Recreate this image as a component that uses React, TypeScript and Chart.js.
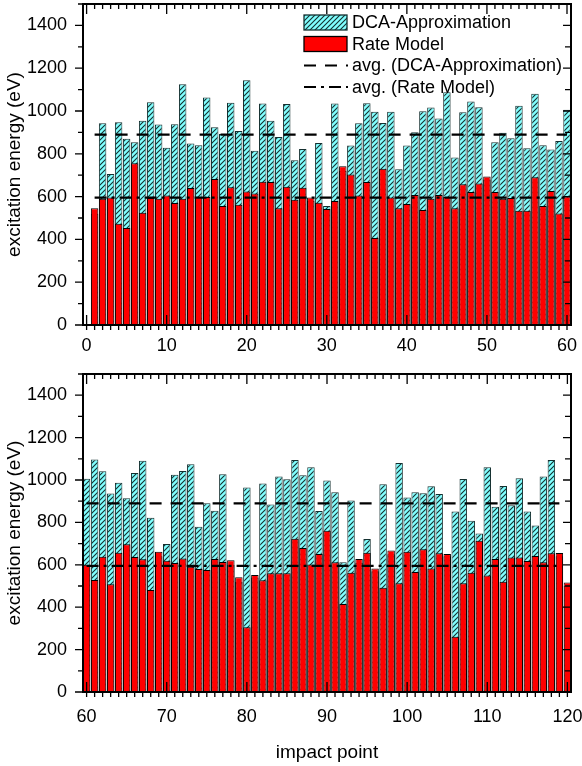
import React, { useEffect, useRef } from 'react';
import { Chart, registerables } from 'chart.js';

Chart.register(...registerables);

// impact points 1..120
const impactPoints = [
  1, 2, 3, 4, 5, 6, 7, 8, 9, 10, 11, 12, 13, 14, 15, 16, 17, 18, 19, 20,
  21, 22, 23, 24, 25, 26, 27, 28, 29, 30, 31, 32, 33, 34, 35, 36, 37, 38, 39, 40,
  41, 42, 43, 44, 45, 46, 47, 48, 49, 50, 51, 52, 53, 54, 55, 56, 57, 58, 59, 60,
  61, 62, 63, 64, 65, 66, 67, 68, 69, 70, 71, 72, 73, 74, 75, 76, 77, 78, 79, 80,
  81, 82, 83, 84, 85, 86, 87, 88, 89, 90, 91, 92, 93, 94, 95, 96, 97, 98, 99, 100,
  101, 102, 103, 104, 105, 106, 107, 108, 109, 110, 111, 112, 113, 114, 115, 116, 117, 118, 119, 120,
];

// excitation energy (eV), DCA-Approximation
const dcaValues = [
  520, 943, 706, 948, 870, 854, 955, 1041, 937, 828,
  938, 1125, 848, 840, 1063, 924, 892, 1038, 907, 1144,
  814, 1035, 955, 878, 1033, 770, 822, 580, 850, 556,
  1035, 720, 839, 943, 1036, 997, 944, 997, 728, 839,
  901, 999, 1016, 965, 1088, 783, 994, 1044, 1018, 680,
  854, 898, 873, 1025, 826, 1081, 840, 820, 860, 1006,
  1097, 1041, 936, 987, 914, 1033, 1091, 822, 640, 698,
  1025, 1042, 1074, 780, 890, 855, 1027, 600, 520, 965,
  540, 983, 885, 1016, 1003, 1094, 1022, 1060, 854, 998,
  942, 612, 903, 610, 722, 570, 980, 650, 1080, 918,
  942, 937, 970, 934, 640, 851, 1005, 808, 748, 1060,
  874, 972, 881, 1008, 851, 785, 1016, 1094, 640, 500,
];

// excitation energy (eV), Rate Model
const rateValues = [
  546, 590, 596, 473, 453, 756, 524, 594, 590, 605,
  570, 590, 640, 598, 598, 682, 556, 644, 562, 624,
  615, 669, 668, 546, 646, 585, 641, 596, 571, 542,
  580, 742, 703, 605, 668, 406, 730, 596, 546, 566,
  608, 537, 590, 608, 598, 546, 658, 622, 661, 694,
  622, 590, 593, 534, 534, 691, 556, 626, 521, 600,
  528, 638, 508, 657, 697, 637, 626, 481, 662, 619,
  608, 630, 591, 580, 575, 627, 613, 621, 541, 305,
  552, 527, 560, 560, 560, 723, 679, 602, 651, 761,
  612, 415, 563, 627, 657, 583, 492, 668, 513, 662,
  566, 673, 583, 654, 651, 261, 513, 563, 714, 550,
  627, 520, 635, 635, 618, 642, 612, 654, 656, 517,
];

const dcaAverage = 890;
const rateAverage = 595;

const yTicks = [0, 200, 400, 600, 800, 1000, 1200, 1400];
const topXTicks = [0, 10, 20, 30, 40, 50, 60];
const bottomXTicks = [60, 70, 80, 90, 100, 110, 120];

const legendLabels = ['DCA-Approximation', 'Rate Model', 'avg. (DCA-Approximation)', 'avg. (Rate Model)'];
const yTitle = 'excitation energy (eV)';
const xTitle = 'impact point';

const FONT = "'Liberation Sans', Arial, sans-serif";

function makeHatch(): CanvasPattern | string {
  const c = document.createElement('canvas');
  c.width = 5;
  c.height = 5;
  const g = c.getContext('2d');
  if (!g) return '#80ffff';
  g.fillStyle = '#80ffff';
  g.fillRect(0, 0, 5, 5);
  g.strokeStyle = '#143030';
  g.lineWidth = 1.1;
  g.beginPath();
  g.moveTo(-1, 6); g.lineTo(6, -1);
  g.moveTo(-1, 1); g.lineTo(1, -1);
  g.moveTo(4, 6); g.lineTo(6, 4);
  g.stroke();
  const p = g.createPattern(c, 'repeat');
  return p || '#80ffff';
}

const decorPlugin = {
  id: 'decor',
  afterDatasetsDraw(chart: any, _args: any, opts: any) {
    const { ctx, chartArea: a, scales } = chart;
    const x = scales.x;
    const y = scales.y;
    ctx.save();
    ctx.strokeStyle = '#000';
    ctx.lineWidth = 1.3;
    ctx.beginPath();
    for (let v = Math.ceil(x.min); v <= x.max; v++) {
      const px = x.getPixelForValue(v);
      const major = v % 10 === 0;
      ctx.moveTo(px, a.bottom + 5);
      ctx.lineTo(px, major ? a.bottom - 10 : a.bottom);
      ctx.moveTo(px, a.top);
      ctx.lineTo(px, a.top + (major ? 10 : 5));
    }
    for (let v = 0; v <= y.max; v += 100) {
      const py = y.getPixelForValue(v);
      const major = v % 200 === 0;
      ctx.moveTo(a.left, py);
      ctx.lineTo(a.left - (major ? 8 : 5), py);
      ctx.moveTo(a.right, py);
      ctx.lineTo(a.right - (major ? 8 : 6), py);
    }
    ctx.stroke();
    ctx.lineWidth = 2;
    ctx.strokeRect(a.left, a.top, a.right - a.left, a.bottom - a.top);

    // y title
    ctx.fillStyle = '#000';
    ctx.font = `19px ${FONT}`;
    ctx.textAlign = 'center';
    ctx.textBaseline = 'middle';
    ctx.save();
    ctx.translate(15, (a.top + a.bottom) / 2);
    ctx.rotate(-Math.PI / 2);
    ctx.fillText(yTitle, 0, 0);
    ctx.restore();

    if (opts && opts.xTitle) {
      ctx.font = `19px ${FONT}`;
      ctx.fillText(xTitle, (a.left + a.right) / 2, opts.xTitleY);
    }

    if (opts && opts.legend) {
      const lx = a.left + 221;
      const lw = 43;
      const rows = [a.top + 18.5, a.top + 40, a.top + 61.5, a.top + 83];
      // hatched box
      ctx.fillStyle = opts.pattern;
      ctx.fillRect(lx, rows[0] - 7.5, lw, 15);
      ctx.strokeStyle = '#143030';
      ctx.lineWidth = 1.3;
      ctx.strokeRect(lx, rows[0] - 7.5, lw, 15);
      // red box
      ctx.fillStyle = '#ff0000';
      ctx.fillRect(lx, rows[1] - 7.5, lw, 15);
      ctx.strokeStyle = '#000';
      ctx.strokeRect(lx, rows[1] - 7.5, lw, 15);
      // dashed line
      ctx.lineWidth = 2.2;
      ctx.setLineDash([12, 9]);
      ctx.beginPath();
      ctx.moveTo(lx, rows[2]);
      ctx.lineTo(lx + lw + 1, rows[2]);
      ctx.stroke();
      ctx.setLineDash([12, 5, 3, 5]);
      ctx.beginPath();
      ctx.moveTo(lx, rows[3]);
      ctx.lineTo(lx + lw + 1, rows[3]);
      ctx.stroke();
      ctx.setLineDash([]);
      ctx.fillStyle = '#000';
      ctx.font = `18px ${FONT}`;
      ctx.textAlign = 'left';
      ctx.textBaseline = 'middle';
      legendLabels.forEach((t, i) => ctx.fillText(t, lx + 48, rows[i] + 1));
    }
    ctx.restore();
  },
};

interface PanelParams {
  from: number;
  to: number;
  xMin: number;
  xMax: number;
  xTicks: number[];
  avgFrom: number;
  avgTo: number;
  padTop: number;
  xHeight: number;
  xLabelPad: number;
  legend: boolean;
  xTitle: boolean;
  xTitleY: number;
  pattern: any;
}

function noPad(s: any) {
  s.paddingTop = 0;
  s.paddingBottom = 0;
  s.paddingLeft = 0;
  s.paddingRight = 0;
}

function buildConfig(p: PanelParams): any {
  const idx = impactPoints.filter((v) => v >= p.from && v <= p.to);
  const dcaData = idx.map((v) => ({ x: v, y: dcaValues[v - 1] }));
  const rateData = idx.map((v) => ({ x: v, y: rateValues[v - 1] }));
  const tickFont = { family: FONT, size: 18 };
  return {
    type: 'bar',
    data: {
      datasets: [
        {
          type: 'line',
          label: legendLabels[2],
          data: [{ x: p.avgFrom, y: dcaAverage }, { x: p.avgTo, y: dcaAverage }],
          borderColor: '#000',
          borderWidth: 2.2,
          borderDash: [12, 9],
          borderCapStyle: 'butt',
          pointRadius: 0,
          fill: false,
          order: 0,
        },
        {
          type: 'line',
          label: legendLabels[3],
          data: [{ x: p.avgFrom, y: rateAverage }, { x: p.avgTo, y: rateAverage }],
          borderColor: '#000',
          borderWidth: 2.2,
          borderDash: [12, 5, 3, 5],
          borderCapStyle: 'butt',
          pointRadius: 0,
          fill: false,
          order: 0,
        },
        {
          type: 'bar',
          label: legendLabels[1],
          data: rateData,
          backgroundColor: '#ff0000',
          borderColor: '#000',
          borderWidth: 1,
          grouped: false,
          barPercentage: 0.93,
          categoryPercentage: 1,
          order: 1,
        },
        {
          type: 'bar',
          label: legendLabels[0],
          data: dcaData,
          backgroundColor: p.pattern,
          borderColor: '#143030',
          borderWidth: 1,
          grouped: false,
          barPercentage: 0.93,
          categoryPercentage: 1,
          order: 2,
        },
      ],
    },
    options: {
      responsive: false,
      animation: false,
      devicePixelRatio: 1,
      events: [],
      layout: { padding: { top: p.padTop, right: 11, left: 0, bottom: 0 } },
      plugins: {
        legend: { display: false },
        tooltip: { enabled: false },
        decor: { legend: p.legend, pattern: p.pattern, xTitle: p.xTitle, xTitleY: p.xTitleY },
      },
      scales: {
        x: {
          type: 'linear',
          min: p.xMin,
          max: p.xMax,
          offset: false,
          grid: { display: false, drawTicks: false },
          border: { display: false },
          ticks: {
            padding: p.xLabelPad, font: tickFont, color: '#000', maxRotation: 0, autoSkip: false,
            callback: (v: any) => String(v),
          },
          afterBuildTicks: (s: any) => {
            s.ticks = p.xTicks.map((v) => ({ value: v }));
          },
          afterFit: (s: any) => {
            s.height = p.xHeight;
            noPad(s);
          },
        },
        y: {
          type: 'linear',
          min: 0,
          max: 1500,
          grid: { display: false, drawTicks: false },
          border: { display: false },
          ticks: { padding: 16, font: tickFont, color: '#000', callback: (v: any) => String(v) },
          afterBuildTicks: (s: any) => {
            s.ticks = yTicks.map((v) => ({ value: v }));
          },
          afterFit: (s: any) => {
            s.width = 83;
            noPad(s);
          },
        },
      },
    },
    plugins: [decorPlugin],
  };
}

export default function App() {
  const topRef = useRef<HTMLCanvasElement>(null);
  const botRef = useRef<HTMLCanvasElement>(null);

  useEffect(() => {
    const pattern = makeHatch();
    const top = new Chart(
      topRef.current as HTMLCanvasElement,
      buildConfig({
        from: 1, to: 60, xMin: -0.45, xMax: 60.5, xTicks: topXTicks,
        avgFrom: 1, avgTo: 60, padTop: 4, xHeight: 35, xLabelPad: 10,
        legend: true, xTitle: false, xTitleY: 0, pattern,
      })
    );
    const bottom = new Chart(
      botRef.current as HTMLCanvasElement,
      buildConfig({
        from: 60, to: 120, xMin: 59.55, xMax: 120.45, xTicks: bottomXTicks,
        avgFrom: 60, avgTo: 119, padTop: 14, xHeight: 74, xLabelPad: 14,
        legend: false, xTitle: true, xTitleY: 393, pattern,
      })
    );
    return () => {
      top.destroy();
      bottom.destroy();
    };
  }, []);

  return (
    <div style={{ position: 'absolute', left: 0, top: 0, width: 582, height: 766, background: '#fff' }}>
      <canvas ref={topRef} width={582} height={360} style={{ position: 'absolute', left: 0, top: 0 }} />
      <canvas ref={botRef} width={582} height={406} style={{ position: 'absolute', left: 0, top: 360 }} />
    </div>
  );
}
